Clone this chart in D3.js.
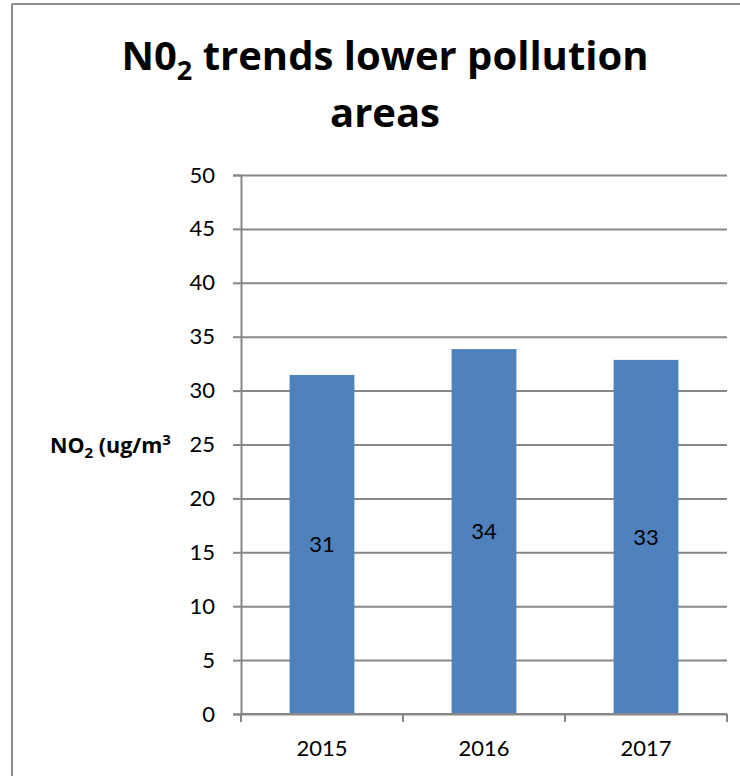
<!DOCTYPE html>
<html>
<head>
<meta charset="utf-8">
<script src="https://cdn.jsdelivr.net/npm/d3@7"></script>
<style>
  html, body { margin: 0; padding: 0; background: #fff; }
  svg { display: block; font-family: Lato, "Open Sans", sans-serif; }
</style>
</head>
<body>
<svg id="chart" width="740" height="776"></svg>
<script>
// Annual mean NO2, lower pollution areas
const years = ["2015", "2016", "2017"];
const no2 = [31.45, 33.85, 32.85];
const yTicks = [0, 5, 10, 15, 20, 25, 30, 35, 40, 45, 50];

const svg = d3.select("#chart");
const W = 740, H = 776;
const plot = { left: 241, right: 727, top: 175, bottom: 714 };
const gridColor = "#878787";

// frame of the chart area
svg.append("line").attr("x1", 12).attr("x2", 12).attr("y1", 4).attr("y2", H)
  .attr("stroke", "#8c8c8c").attr("stroke-width", 2);
svg.append("line").attr("x1", 12).attr("x2", W).attr("y1", 4).attr("y2", 4)
  .attr("stroke", "#8c8c8c").attr("stroke-width", 2);

const x = d3.scaleBand().domain(years).range([plot.left, plot.right]).padding(0);
const y = d3.scaleLinear().domain([0, 50]).range([plot.bottom, plot.top]);

// y axis with gridlines
const yAxis = d3.axisLeft(y).tickValues(yTicks).tickSize(8).tickPadding(18);
const gy = svg.append("g").attr("transform", `translate(${plot.left},0)`).call(yAxis);
gy.select(".domain").attr("stroke", gridColor).attr("stroke-width", 2);
gy.selectAll(".tick line").attr("stroke", gridColor).attr("stroke-width", 2);
gy.selectAll(".tick text").attr("font-size", 22).attr("fill", "#000")
  .attr("font-family", "Lato, sans-serif");
gy.selectAll(".tick").append("line")
  .attr("x1", 0).attr("x2", plot.right - plot.left)
  .attr("stroke", gridColor).attr("stroke-width", 2);

// bars
const barW = x.bandwidth() * 0.4;
svg.append("g").selectAll("rect").data(years).join("rect")
  .attr("x", (d) => x(d) + (x.bandwidth() - barW) / 2)
  .attr("width", barW)
  .attr("y", (d, i) => y(no2[i]))
  .attr("height", (d, i) => y(0) - y(no2[i]))
  .attr("fill", "#4f81bd");

// x axis
const xAxis = d3.axisBottom(x).tickSize(0).tickPadding(26);
const gx = svg.append("g").attr("transform", `translate(0,${plot.bottom})`).call(xAxis);
gx.select(".domain").remove();
gx.selectAll(".tick text").attr("font-size", 22).attr("fill", "#000")
  .attr("font-family", "Lato, sans-serif");
const bounds = years.map((d) => x(d)).concat([plot.right]);
gx.selectAll(".bound").data(bounds).join("line").attr("class", "bound")
  .attr("x1", (d) => d).attr("x2", (d) => d).attr("y1", 0).attr("y2", 8)
  .attr("stroke", gridColor).attr("stroke-width", 2);
gx.append("line").attr("x1", plot.left).attr("x2", plot.right)
  .attr("stroke", gridColor).attr("stroke-width", 2);

// value labels in the middle of each bar
const fmt = d3.format(".0f");
svg.append("g").selectAll("text").data(years).join("text")
  .attr("x", (d) => x(d) + x.bandwidth() / 2)
  .attr("y", (d, i) => (y(no2[i]) + y(0)) / 2)
  .attr("dy", "0.35em")
  .attr("text-anchor", "middle")
  .attr("font-size", 22)
  .text((d, i) => fmt(no2[i]));

// title
const title = svg.append("text").attr("text-anchor", "middle")
  .attr("font-family", "'Open Sans', Lato, sans-serif")
  .attr("font-weight", "bold").attr("font-size", 40);
const t1 = title.append("tspan").attr("x", 385).attr("y", 70);
t1.append("tspan").text("N0");
t1.append("tspan").attr("font-size", 27).attr("dy", 10).text("2");
t1.append("tspan").attr("dy", -10).text(" trends lower pollution");
title.append("tspan").attr("x", 385).attr("y", 127).text("areas");

// y axis title
const yt = svg.append("text").attr("x", 50).attr("y", 453)
  .attr("font-family", "'Open Sans', Lato, sans-serif")
  .attr("font-weight", "bold").attr("font-size", 21.5);
yt.append("tspan").text("NO");
yt.append("tspan").attr("font-size", 15).attr("dy", 5).text("2");
yt.append("tspan").attr("dy", -5).text(" (ug/m");
yt.append("tspan").attr("font-size", 15).attr("dy", -8).text("3");
</script>
</body>
</html>
